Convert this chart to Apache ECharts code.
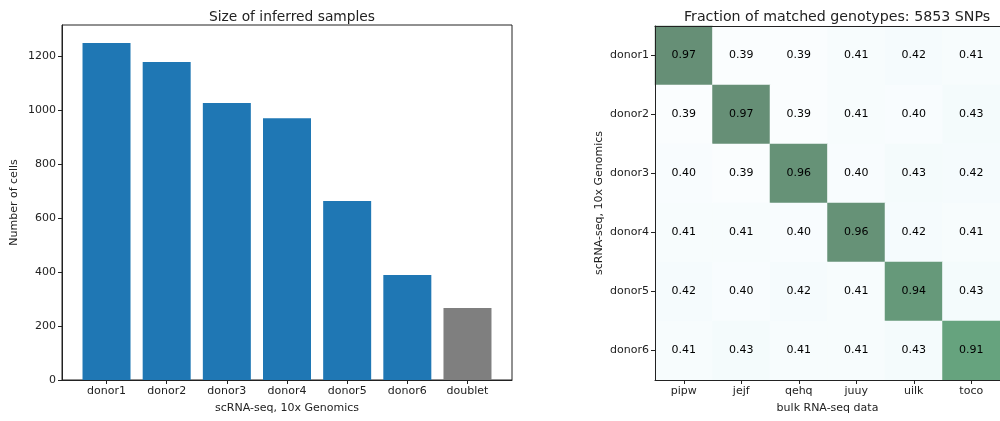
<!DOCTYPE html>
<html>
<head>
<meta charset="utf-8">
<script src="https://cdn.jsdelivr.net/npm/echarts@6/dist/echarts.min.js"></script>
<style>
html,body{margin:0;padding:0;background:#fff}
#chart{width:1000px;height:421px}
</style>
</head>
<body>
<div id="chart"></div>
<script>
// bar chart data
var sampleNames = ['donor1','donor2','donor3','donor4','donor5','donor6','doublet']
var cellCounts = [1248,1178,1026,970,663,389,267]
var yTicks = [0,200,400,600,800,1000,1200]

// heatmap data
var donors = ['donor1','donor2','donor3','donor4','donor5','donor6']
var bulkSamples = ['pipw','jejf','qehq','juuy','uilk','toco']
var matchFrac = [
    [0.97,0.39,0.39,0.41,0.42,0.41],
    [0.39,0.97,0.39,0.41,0.40,0.43],
    [0.40,0.39,0.96,0.40,0.43,0.42],
    [0.41,0.41,0.40,0.96,0.42,0.41],
    [0.42,0.40,0.42,0.41,0.94,0.43],
    [0.41,0.43,0.41,0.41,0.43,0.91]
]

var font = 'DejaVu Sans'
var ink = '#222'

var barData = []
cellCounts.forEach(function(v,i){
    barData.push({value:[i,v],itemStyle:{color: sampleNames[i]=='doublet' ? '#7f7f7f' : '#1f77b4'}})
})

var heatData = []
matchFrac.forEach(function(row,r){
    row.forEach(function(v,c){ heatData.push([c,r,v]) })
})

var axisText = {color:ink,fontFamily:font,fontSize:11}

var chart = echarts.init(document.getElementById('chart'))
chart.setOption({
    animation:false,
    textStyle:{fontFamily:font},
    title:[
        {text:'Size of inferred samples',left:287,top:5,textAlign:'center',
         textStyle:{fontFamily:font,fontSize:13.8,fontWeight:'normal',color:ink}},
        {text:'Fraction of matched genotypes: 5853 SNPs',left:832,top:5,textAlign:'center',
         textStyle:{fontFamily:font,fontSize:14.2,fontWeight:'normal',color:ink}}
    ],
    grid:[
        {left:62,top:25,width:450,height:355,show:true,borderColor:ink,borderWidth:1,backgroundColor:'#fff'},
        {left:655,top:26,width:355,height:354}
    ],
    xAxis:[
        {type:'value',gridIndex:0,min:-0.74,max:6.74,splitLine:{show:false},
         axisLine:{show:true,onZero:false,lineStyle:{color:ink}},
         axisTick:{show:true,length:4,customValues:[0,1,2,3,4,5,6],lineStyle:{color:ink}},
         axisLabel:Object.assign({customValues:[0,1,2,3,4,5,6],margin:6,
            formatter:function(v){return sampleNames[Math.round(v)]}},axisText),
         name:'scRNA-seq, 10x Genomics',nameLocation:'middle',nameGap:23,nameTextStyle:axisText},
        {type:'category',gridIndex:1,data:bulkSamples,z:5,
         axisLine:{show:true,lineStyle:{color:ink}},
         axisTick:{show:true,alignWithLabel:true,length:4,lineStyle:{color:ink}},
         axisLabel:Object.assign({margin:6},axisText),
         name:'bulk RNA-seq data',nameLocation:'middle',nameGap:23,nameTextStyle:axisText},
        {type:'category',gridIndex:1,data:bulkSamples,position:'top',z:5,
         axisLine:{show:true,lineStyle:{color:ink}},axisTick:{show:false},axisLabel:{show:false}}
    ],
    yAxis:[
        {type:'value',gridIndex:0,min:0,max:1315,splitLine:{show:false},
         axisLine:{show:true,onZero:false,lineStyle:{color:ink}},
         axisTick:{show:true,length:4,customValues:yTicks,lineStyle:{color:ink}},
         axisLabel:Object.assign({customValues:yTicks,margin:6,formatter:function(v){return String(v)}},axisText),
         name:'Number of cells',nameLocation:'middle',nameGap:42,nameTextStyle:axisText},
        {type:'category',gridIndex:1,data:donors,inverse:true,z:5,
         axisLine:{show:true,lineStyle:{color:ink}},
         axisTick:{show:true,alignWithLabel:true,length:4,lineStyle:{color:ink}},
         axisLabel:Object.assign({margin:6},axisText),
         name:'scRNA-seq, 10x Genomics',nameLocation:'middle',nameGap:50,nameTextStyle:axisText}
    ],
    visualMap:{show:false,seriesIndex:1,min:0.39,max:0.97,
        inRange:{color:['#fafdfe','#eff9fb','#e0f4f0','#c2e8df','#a3dac8','#8dcead','#7bb98f','#66a780','#668f76']}},
    series:[
        {type:'bar',xAxisIndex:0,yAxisIndex:0,barWidth:48,data:barData},
        {type:'heatmap',xAxisIndex:1,yAxisIndex:1,data:heatData,
         label:{show:true,color:'#000',fontFamily:font,fontSize:11,
            formatter:function(p){return p.value[2].toFixed(2)}}}
    ]
})
</script>
</body>
</html>
